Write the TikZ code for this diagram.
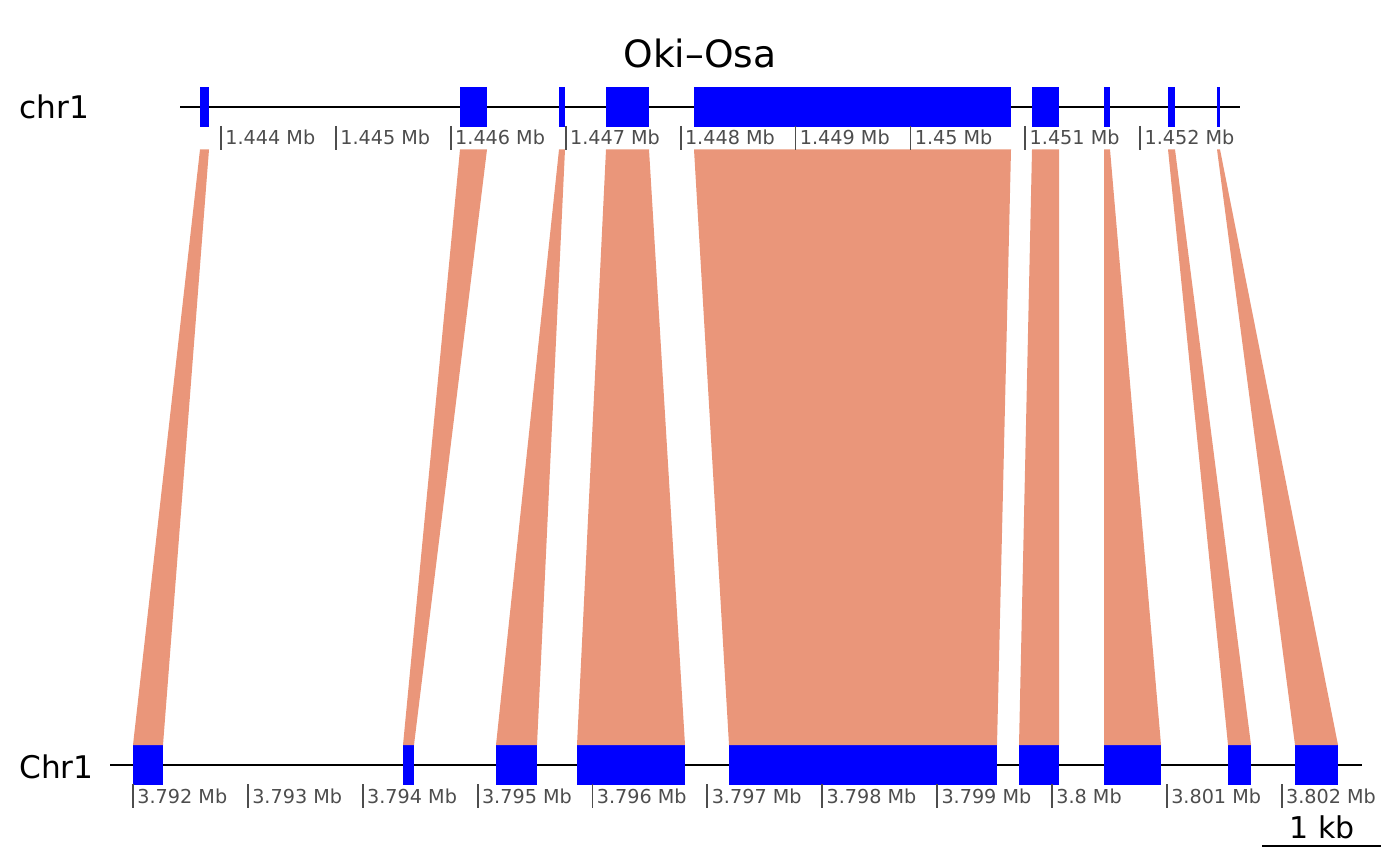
\documentclass[tikz,border=0pt]{standalone}
\usepackage{fontspec}
\setmainfont{DejaVu Sans}
\usetikzlibrary{positioning}
\definecolor{exonblue}{RGB}{0,0,255}
\definecolor{ribbon}{RGB}{234,150,122}
\definecolor{axisgray}{RGB}{77,77,77}

\begin{document}
\begin{tikzpicture}[x=0.5pt,y=-0.5pt,
  exon/.style={rectangle,fill=exonblue,inner sep=0pt,outer sep=0pt,minimum height=19.8pt},
  link/.style={fill=ribbon},
  track/.style={black,line width=0.85pt},
  tick/.style={axisgray,line width=0.9pt},
  ticklab/.style={text=axisgray,font=\fontsize{9.6}{11}\selectfont,anchor=base west,inner sep=0pt},
  chrlab/.style={font=\fontsize{15.6}{18}\selectfont,anchor=base west,inner sep=0pt}]
  \useasboundingbox (0,0) rectangle (1400,865);

  % title and chromosome labels
  \node[font=\fontsize{18.8}{22}\selectfont,anchor=base,inner sep=0pt] (title) at (700,68) {Oki–Osa};
  \node[chrlab] (toplab) at (19,119) {chr1};
  \node[chrlab] (botlab) at (19,778) {Chr1};

  % backbones
  \coordinate (topL) at (180,107); \coordinate (topR) at (1240,107);
  \coordinate (botL) at (110,765); \coordinate (botR) at (1362,765);
  \draw[track] (topL) -- (topR);
  \draw[track] (botL) -- (botR);

  % exons on both tracks
  \foreach \i/\xl/\xr in {1/200/209,2/460/487,3/559/565,4/606/649,5/694/1011,
                          6/1032/1059,7/1104/1110,8/1168/1175,9/1217/1220}
    \node[exon,minimum width={(\xr-\xl)*0.5pt}] (t\i) at ({(\xl+\xr)/2},107.3) {};
  \foreach \i/\xl/\xr in {1/133/163,2/403/414,3/496/537,4/577/685,5/729/997,
                          6/1019/1059,7/1104/1161,8/1228/1251,9/1295/1338}
    \node[exon,minimum width={(\xr-\xl)*0.5pt}] (b\i) at ({(\xl+\xr)/2},764.8) {};

  % syntenic links
  \coordinate (ribtop) at (0,149.5);
  \foreach \i in {1,...,9}
    \fill[link] (t\i.south west |- ribtop) -- (t\i.south east |- ribtop)
      -- (b\i.north east) -- (b\i.north west) -- cycle;

  % axis ticks
  \foreach \v [count=\k from 0] in {1.444,1.445,1.446,1.447,1.448,1.449,1.45,1.451,1.452}{
    \draw[tick] ({221+114.9*\k},126) -- ++(0,24);
    \node[ticklab] (tt\k) at ({225+114.9*\k},145) {\v{} Mb};
  }
  \foreach \v [count=\k from 0] in {3.792,3.793,3.794,3.795,3.796,3.797,3.798,3.799,3.8,3.801,3.802}{
    \draw[tick] ({133+114.87*\k},784) -- ++(0,24);
    \node[ticklab] (bt\k) at ({137+114.87*\k},803) {\v{} Mb};
  }

  % scale bar
  \coordinate (sbL) at (1262,846); \coordinate (sbR) at (1381,846);
  \draw[black,line width=0.7pt] (sbL) -- (sbR);
  \node[font=\fontsize{15}{18}\selectfont,anchor=base,inner sep=0pt] (sblab) at (1322,838) {1 kb};
\end{tikzpicture}
\end{document}
